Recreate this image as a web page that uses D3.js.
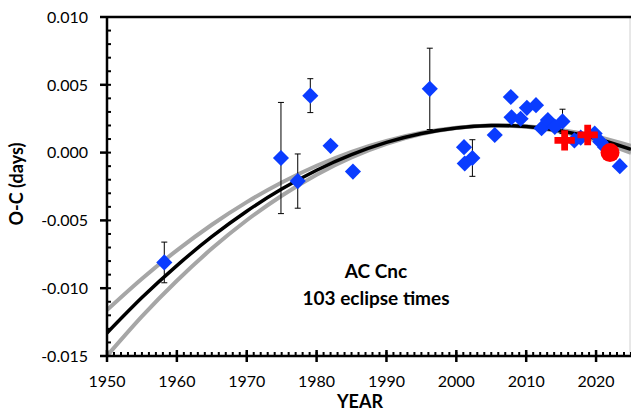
<!DOCTYPE html>
<html>
<head>
<meta charset="utf-8">
<script src="https://cdn.jsdelivr.net/npm/d3@7"></script>
<style>
  body { margin: 0; background: #fff; }
  text { font-family: Lato, "Open Sans", sans-serif; }
</style>
</head>
<body>
<svg id="chart" width="631" height="411"></svg>
<script>
// observed eclipse times: year, O-C (days), error (0 = no bar)
const obsYears = [1958.2, 1974.9, 1977.3, 1979.1, 1982.0, 1985.2, 1996.2, 2001.1, 2001.2, 2002.3,
  2005.5, 2007.8, 2007.9, 2009.2, 2010.1, 2011.4, 2012.2, 2013.1, 2014.1, 2015.2,
  2016.9, 2017.8, 2019.8, 2020.6, 2021.3, 2023.4]
const obsOC = [-0.0081, -0.0004, -0.0021, 0.0042, 0.0005, -0.0014, 0.0047, 0.0004, -0.0008, -0.0004,
  0.0013, 0.0041, 0.0026, 0.0025, 0.0033, 0.0035, 0.0018, 0.0024, 0.0019, 0.0023,
  0.0009, 0.0011, 0.0014, 0.0008, 0.0004, -0.0010]
const obsErr = [0.0015, 0.0041, 0.0020, 0.00125, 0, 0, 0.0030, 0, 0, 0.00135,
  0, 0, 0, 0, 0, 0, 0, 0, 0, 0.0009,
  0, 0, 0, 0, 0, 0]

// new timings (red crosses) and the latest one (red circle)
const crossYears = [2015.5, 2018.8]
const crossOC = [0.0009, 0.0013]
const circleYears = [2022.0]
const circleOC = [0.0000]

// quadratic fit and its uncertainty envelope
const fitYears = [1950, 1955, 1960, 1965, 1970, 1975, 1980, 1985, 1990, 1995, 2000, 2005, 2010, 2015, 2020, 2025]
const fitOC = [-0.01330, -0.01069, -0.00833, -0.00620, -0.00432, -0.00269, -0.00130, -0.00015,
  0.00075, 0.00141, 0.00182, 0.00200, 0.00192, 0.00160, 0.00104, 0.00024]
const upperOC = [-0.01161, -0.00930, -0.00721, -0.00532, -0.00365, -0.00220, -0.00097, 0.00006,
  0.00086, 0.00146, 0.00183, 0.00200, 0.00194, 0.00167, 0.00119, 0.00050]
const lowerOC = [-0.01499, -0.01208, -0.00945, -0.00708, -0.00499, -0.00318, -0.00163, -0.00036,
  0.00064, 0.00136, 0.00181, 0.00200, 0.00190, 0.00153, 0.00089, -0.00002]

const xTicks = [1950, 1960, 1970, 1980, 1990, 2000, 2010, 2020]
const yTicks = [0.010, 0.005, 0.000, -0.005, -0.010, -0.015]

const svg = d3.select("#chart")
const plotLeft = 107, plotRight = 631, plotTop = 17, plotBottom = 356

const x = d3.scaleLinear().domain([1950, 2025]).range([plotLeft, plotRight])
const y = d3.scaleLinear().domain([-0.015, 0.010]).range([plotBottom, plotTop])

svg.append("clipPath").attr("id", "plot")
  .append("rect").attr("x", plotLeft).attr("y", plotTop)
  .attr("width", plotRight - plotLeft).attr("height", plotBottom - plotTop)

// right border
svg.append("line")
  .attr("x1", plotRight - 1).attr("x2", plotRight - 1).attr("y1", plotTop).attr("y2", plotBottom)
  .attr("stroke", "#d0d0d0").attr("stroke-width", 1)

// curves
const line = d3.line().curve(d3.curveNatural)
  .x(d => x(d[0])).y(d => y(d[1]))
const curves = svg.append("g").attr("clip-path", "url(#plot)")
curves.append("path").datum(d3.zip(fitYears, upperOC))
  .attr("d", line).attr("fill", "none").attr("stroke", "#a6a6a6").attr("stroke-width", 4)
curves.append("path").datum(d3.zip(fitYears, lowerOC))
  .attr("d", line).attr("fill", "none").attr("stroke", "#a6a6a6").attr("stroke-width", 4)
curves.append("path").datum(d3.zip(fitYears, fitOC))
  .attr("d", line).attr("fill", "none").attr("stroke", "#000").attr("stroke-width", 3.5)

// error bars
const obs = obsYears.map((t, i) => ({ t, v: obsOC[i], e: obsErr[i] }))
const bars = svg.append("g").selectAll("g")
  .data(obs.filter(d => d.e > 0))
  .join("g")
  .attr("stroke", "#000").attr("stroke-width", 1)
bars.append("line")
  .attr("x1", d => x(d.t)).attr("x2", d => x(d.t))
  .attr("y1", d => y(d.v + d.e)).attr("y2", d => y(d.v - d.e))
bars.append("line")
  .attr("x1", d => x(d.t) - 3).attr("x2", d => x(d.t) + 3)
  .attr("y1", d => y(d.v + d.e)).attr("y2", d => y(d.v + d.e))
bars.append("line")
  .attr("x1", d => x(d.t) - 3).attr("x2", d => x(d.t) + 3)
  .attr("y1", d => y(d.v - d.e)).attr("y2", d => y(d.v - d.e))

// diamonds
svg.append("g").selectAll("rect")
  .data(obs)
  .join("rect")
  .attr("x", -5.7).attr("y", -5.7).attr("width", 11.4).attr("height", 11.4)
  .attr("transform", d => `translate(${x(d.t)},${y(d.v)}) rotate(45)`)
  .attr("fill", "#0a3cff")

// red crosses
svg.append("g").selectAll("path")
  .data(d3.zip(crossYears, crossOC))
  .join("path")
  .attr("d", d3.symbol(d3.symbolCross, 230))
  .attr("transform", d => `translate(${x(d[0])},${y(d[1])})`)
  .attr("fill", "#ff0000")

// red circle
svg.append("g").selectAll("circle")
  .data(d3.zip(circleYears, circleOC))
  .join("circle")
  .attr("cx", d => x(d[0])).attr("cy", d => y(d[1])).attr("r", 9.5)
  .attr("fill", "#ff0000")

// axes
const axisColor = "#000"
svg.append("line").attr("x1", plotLeft).attr("x2", plotRight).attr("y1", plotTop).attr("y2", plotTop)
  .attr("stroke", axisColor).attr("stroke-width", 2.5)

const yAxis = svg.append("g")
yAxis.append("line").attr("x1", plotLeft).attr("x2", plotLeft).attr("y1", plotTop).attr("y2", plotBottom)
  .attr("stroke", axisColor).attr("stroke-width", 2.5)
yAxis.selectAll(".minor")
  .data(d3.range(-15, 11).map(v => v / 1000))
  .join("line").attr("class", "minor")
  .attr("x1", plotLeft).attr("x2", plotLeft + 4)
  .attr("y1", d => y(d)).attr("y2", d => y(d))
  .attr("stroke", axisColor).attr("stroke-width", 2)
yAxis.selectAll(".major")
  .data(yTicks)
  .join("line").attr("class", "major")
  .attr("x1", plotLeft - 7).attr("x2", plotLeft)
  .attr("y1", d => y(d)).attr("y2", d => y(d))
  .attr("stroke", axisColor).attr("stroke-width", 2.5)
yAxis.selectAll("text")
  .data(yTicks)
  .join("text")
  .attr("x", plotLeft - 19).attr("y", d => y(d)).attr("dy", "0.36em")
  .attr("text-anchor", "end").attr("font-size", 16).attr("fill", "#000")
  .text(d => d3.format(".3f")(d).replace("−", "-"))

const xAxis = svg.append("g")
xAxis.append("line").attr("x1", plotLeft).attr("x2", plotRight).attr("y1", plotBottom).attr("y2", plotBottom)
  .attr("stroke", axisColor).attr("stroke-width", 2.5)
xAxis.selectAll(".minor")
  .data(d3.range(1950, 2026))
  .join("line").attr("class", "minor")
  .attr("x1", d => x(d)).attr("x2", d => x(d))
  .attr("y1", plotBottom - 4).attr("y2", plotBottom)
  .attr("stroke", axisColor).attr("stroke-width", 2)
xAxis.selectAll(".major")
  .data(xTicks)
  .join("line").attr("class", "major")
  .attr("x1", d => x(d)).attr("x2", d => x(d))
  .attr("y1", plotBottom - 6).attr("y2", plotBottom + 6)
  .attr("stroke", axisColor).attr("stroke-width", 2.5)
xAxis.selectAll("text")
  .data(xTicks)
  .join("text")
  .attr("x", d => x(d)).attr("y", 387)
  .attr("text-anchor", "middle").attr("font-size", 16).attr("fill", "#000")
  .text(d => d)

// titles
svg.append("text")
  .attr("x", 360).attr("y", 408)
  .attr("text-anchor", "middle").attr("font-size", 18).attr("font-weight", "bold")
  .text("YEAR")
svg.append("text")
  .attr("transform", "translate(23,184) rotate(-90)")
  .attr("text-anchor", "middle").attr("font-size", 18).attr("font-weight", "bold")
  .text("O-C (days)")

svg.append("text")
  .attr("x", 376).attr("y", 278)
  .attr("text-anchor", "middle").attr("font-size", 19).attr("font-weight", "bold")
  .text("AC Cnc")
svg.append("text")
  .attr("x", 376).attr("y", 305)
  .attr("text-anchor", "middle").attr("font-size", 19).attr("font-weight", "bold")
  .text("103 eclipse times")
</script>
</body>
</html>
